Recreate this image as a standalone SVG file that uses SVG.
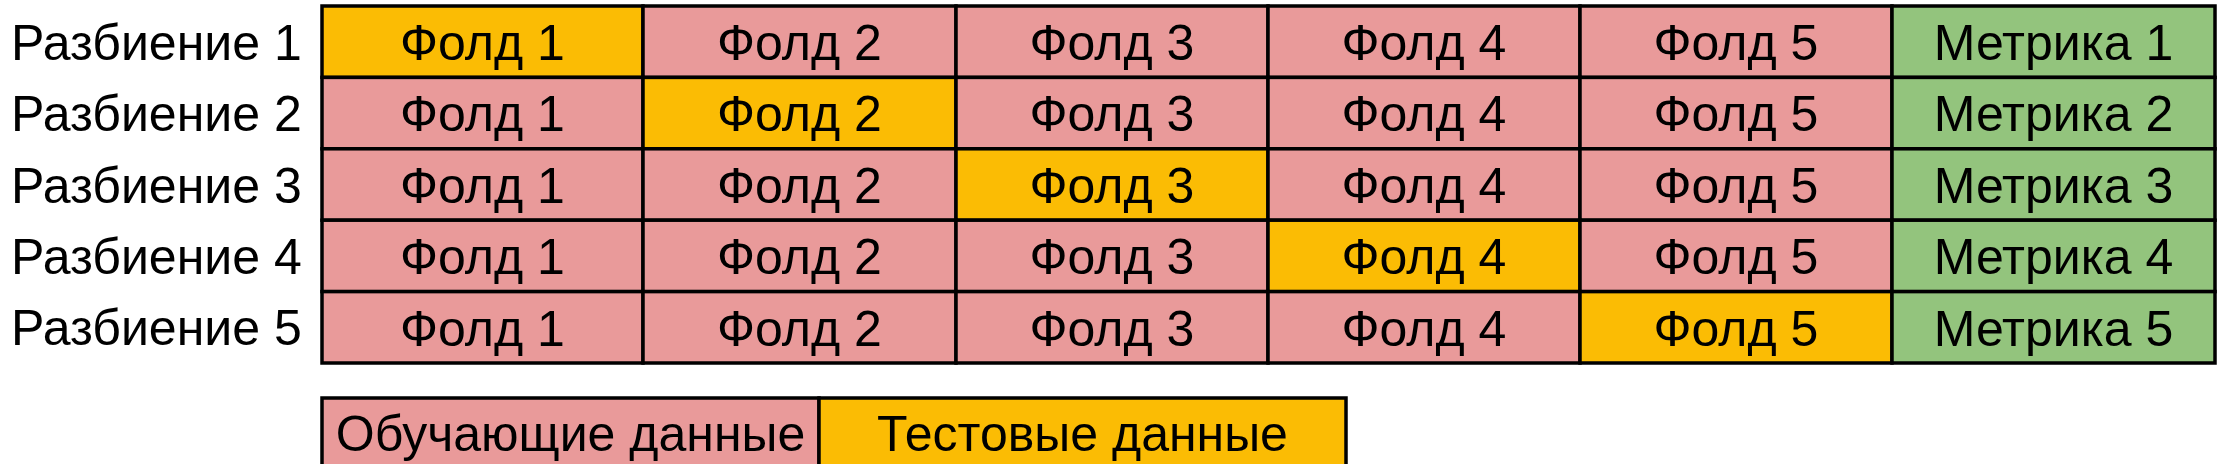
<svg xmlns="http://www.w3.org/2000/svg" width="2220" height="464" viewBox="0 0 2220 464">
<style>
.tr{fill:#E99A9A;stroke:#000;stroke-width:3.5}
.ts{fill:#FBBC04;stroke:#000;stroke-width:3.5}
.mt{fill:#93C47D;stroke:#000;stroke-width:3.5}
text{font-family:"Liberation Sans",Arial,sans-serif;font-size:50px;fill:#000}
.c{text-anchor:middle}
</style>
<rect width="2220" height="464" fill="#fff"/>
<g id="labels">
<text x="11" y="60">Разбиение 1</text>
<text x="11" y="131">Разбиение 2</text>
<text x="11" y="203">Разбиение 3</text>
<text x="11" y="274">Разбиение 4</text>
<text x="11" y="345">Разбиение 5</text>
</g>
<g id="row1">
<rect class="ts" x="322" y="6" width="321" height="71.4"/><text class="c" x="482.5" y="59.5">Фолд 1</text>
<rect class="tr" x="643" y="6" width="313" height="71.4"/><text class="c" x="799.5" y="59.5">Фолд 2</text>
<rect class="tr" x="956" y="6" width="312" height="71.4"/><text class="c" x="1112" y="59.5">Фолд 3</text>
<rect class="tr" x="1268" y="6" width="312" height="71.4"/><text class="c" x="1424" y="59.5">Фолд 4</text>
<rect class="tr" x="1580" y="6" width="312" height="71.4"/><text class="c" x="1736" y="59.5">Фолд 5</text>
<rect class="mt" x="1892" y="6" width="323" height="71.4"/><text class="c" x="2053.5" y="59.5">Метрика 1</text>
</g>
<g id="row2">
<rect class="tr" x="322" y="77.4" width="321" height="71.4"/><text class="c" x="482.5" y="131">Фолд 1</text>
<rect class="ts" x="643" y="77.4" width="313" height="71.4"/><text class="c" x="799.5" y="131">Фолд 2</text>
<rect class="tr" x="956" y="77.4" width="312" height="71.4"/><text class="c" x="1112" y="131">Фолд 3</text>
<rect class="tr" x="1268" y="77.4" width="312" height="71.4"/><text class="c" x="1424" y="131">Фолд 4</text>
<rect class="tr" x="1580" y="77.4" width="312" height="71.4"/><text class="c" x="1736" y="131">Фолд 5</text>
<rect class="mt" x="1892" y="77.4" width="323" height="71.4"/><text class="c" x="2053.5" y="131">Метрика 2</text>
</g>
<g id="row3">
<rect class="tr" x="322" y="148.8" width="321" height="71.4"/><text class="c" x="482.5" y="202.5">Фолд 1</text>
<rect class="tr" x="643" y="148.8" width="313" height="71.4"/><text class="c" x="799.5" y="202.5">Фолд 2</text>
<rect class="ts" x="956" y="148.8" width="312" height="71.4"/><text class="c" x="1112" y="202.5">Фолд 3</text>
<rect class="tr" x="1268" y="148.8" width="312" height="71.4"/><text class="c" x="1424" y="202.5">Фолд 4</text>
<rect class="tr" x="1580" y="148.8" width="312" height="71.4"/><text class="c" x="1736" y="202.5">Фолд 5</text>
<rect class="mt" x="1892" y="148.8" width="323" height="71.4"/><text class="c" x="2053.5" y="202.5">Метрика 3</text>
</g>
<g id="row4">
<rect class="tr" x="322" y="220.2" width="321" height="71.4"/><text class="c" x="482.5" y="274">Фолд 1</text>
<rect class="tr" x="643" y="220.2" width="313" height="71.4"/><text class="c" x="799.5" y="274">Фолд 2</text>
<rect class="tr" x="956" y="220.2" width="312" height="71.4"/><text class="c" x="1112" y="274">Фолд 3</text>
<rect class="ts" x="1268" y="220.2" width="312" height="71.4"/><text class="c" x="1424" y="274">Фолд 4</text>
<rect class="tr" x="1580" y="220.2" width="312" height="71.4"/><text class="c" x="1736" y="274">Фолд 5</text>
<rect class="mt" x="1892" y="220.2" width="323" height="71.4"/><text class="c" x="2053.5" y="274">Метрика 4</text>
</g>
<g id="row5">
<rect class="tr" x="322" y="291.6" width="321" height="71.4"/><text class="c" x="482.5" y="345.5">Фолд 1</text>
<rect class="tr" x="643" y="291.6" width="313" height="71.4"/><text class="c" x="799.5" y="345.5">Фолд 2</text>
<rect class="tr" x="956" y="291.6" width="312" height="71.4"/><text class="c" x="1112" y="345.5">Фолд 3</text>
<rect class="tr" x="1268" y="291.6" width="312" height="71.4"/><text class="c" x="1424" y="345.5">Фолд 4</text>
<rect class="ts" x="1580" y="291.6" width="312" height="71.4"/><text class="c" x="1736" y="345.5">Фолд 5</text>
<rect class="mt" x="1892" y="291.6" width="323" height="71.4"/><text class="c" x="2053.5" y="345.5">Метрика 5</text>
</g>
<g id="legend">
<rect class="tr" x="322" y="398" width="497" height="80"/><text class="c" x="570.5" y="451">Обучающие данные</text>
<rect class="ts" x="819" y="398" width="527" height="80"/><text class="c" x="1082.5" y="451">Тестовые данные</text>
</g>
</svg>
